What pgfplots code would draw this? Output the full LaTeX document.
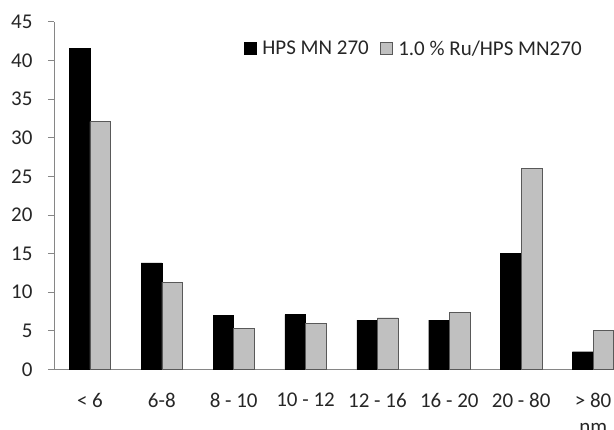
\documentclass[border=0pt]{standalone}
\usepackage{fontspec}
\setmainfont{Carlito}
\usepackage{pgfplots}
\pgfplotsset{compat=1.18}
\definecolor{axgray}{HTML}{868686}
\definecolor{bargray}{HTML}{C0C0C0}
\definecolor{txt}{HTML}{262626}

\begin{document}
\begin{tikzpicture}
\useasboundingbox (0,0) rectangle (614pt,430pt);
\clip (0,0) rectangle (614pt,430pt);
\begin{axis}[
    at={(54pt,60.5pt)}, anchor=south west,
    scale only axis,
    width=575pt, height=347.6pt,
    xmin=-0.5, xmax=7.5,
    ymin=0, ymax=45,
    axis x line*=bottom,
    axis y line*=left,
    axis line style={axgray, line width=0.8pt, -},
    font=\fontsize{21}{25}\selectfont,
    /pgf/number format/assume math mode=true,
    text=txt,
    ytick={0,5,...,45},
    xtick={0,...,7},
    xticklabels={< 6, 6-8, 8 - 10, 10 - 12, 12 - 16, 16 - 20, 20 - 80, > 80},
    x tick style={draw=none},
    y tick style={axgray, line width=0.8pt},
    major tick length=6pt,
    tick align=outside,
    extra x ticks={-0.5,0.5,...,7.5},
    extra x tick labels={},
    extra x tick style={major tick length=8pt, tick style={axgray, line width=0.8pt}},
    xticklabel style={yshift=-14pt},
    yticklabel style={xshift=-12pt},
    ybar, bar width=20.6pt,
    xlabel={nm},
    xlabel style={at={(axis description cs:0.938,0)}, anchor=north, yshift=-50pt},
    legend columns=2,
    legend style={draw=none, fill=none, at={(axis description cs:0.33,0.9235)}, anchor=west,
        inner sep=0pt, font=\fontsize{21}{25}\selectfont,
        /tikz/every even column/.append style={column sep=9pt}},
    legend image code/.code={\draw[#1] (0pt,-6pt) rectangle (12pt,6pt); \path (16pt,0pt);},
]
\addplot[fill=black, draw=black, bar shift=-10.3pt] coordinates {
    (0,41.6) (1,13.8) (2,7.0) (3,7.1) (4,6.4) (5,6.4) (6,15.0) (7,2.3)
};
\addplot[fill=bargray, draw=black!65, bar shift=10.3pt] coordinates {
    (0,32.1) (1,11.3) (2,5.3) (3,6.0) (4,6.7) (5,7.4) (6,26.0) (7,5.1)
};
\legend{HPS MN 270, 1.0 \% Ru/HPS MN270}
\end{axis}
\end{tikzpicture}
\end{document}
